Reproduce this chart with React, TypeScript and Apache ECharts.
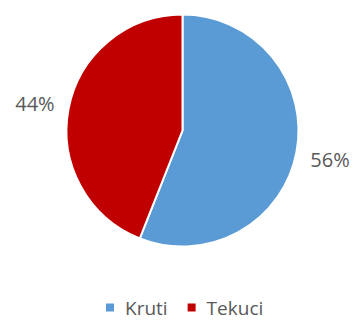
import React, { useEffect, useRef } from "react";
import * as echarts from "echarts";

const categories = ["Kruti", "Tekuci"];
const values = [56, 44];
const colors = ["#5B9BD5", "#C00000"];
const labelShiftY = [6, -4];

export default function App() {
  const ref = useRef<HTMLDivElement>(null);
  useEffect(() => {
    document.body.style.margin = "0";
    const chart = echarts.init(ref.current!, null, { renderer: "svg" });
    chart.setOption({
      animation: false,
      backgroundColor: "#ffffff",
      legend: {
        data: categories,
        left: 104,
        top: 298,
        padding: 0,
        icon: "rect",
        itemWidth: 10,
        itemHeight: 10,
        itemGap: 18,
        textStyle: {
          fontFamily: "Open Sans",
          fontSize: 19,
          lineHeight: 18,
          color: "#595959",
          padding: [0, 0, 0, 5],
        },
      },
      series: [
        {
          type: "pie",
          center: [182.5, 130.5],
          radius: 116,
          startAngle: 90,
          clockwise: true,
          data: categories.map((c, i) => ({ name: c, value: values[i], itemStyle: { color: colors[i] } })),
          itemStyle: { borderColor: "#ffffff", borderWidth: 2 },
          label: {
            show: true,
            position: "outside",
            formatter: "{d}%",
            fontFamily: "Open Sans",
            fontSize: 20,
            color: "#595959",
            overflow: "none",
            bleedMargin: 0,
          },
          labelLine: { show: false, length: 5, length2: 4 },
          labelLayout: (p: any) => ({ dy: labelShiftY[p.dataIndex] }),
          emphasis: { disabled: true },
        },
      ],
    });
    return () => chart.dispose();
  }, []);
  return <div ref={ref} style={{ position: "absolute", left: 0, top: 0, width: 354, height: 320 }} />;
}
